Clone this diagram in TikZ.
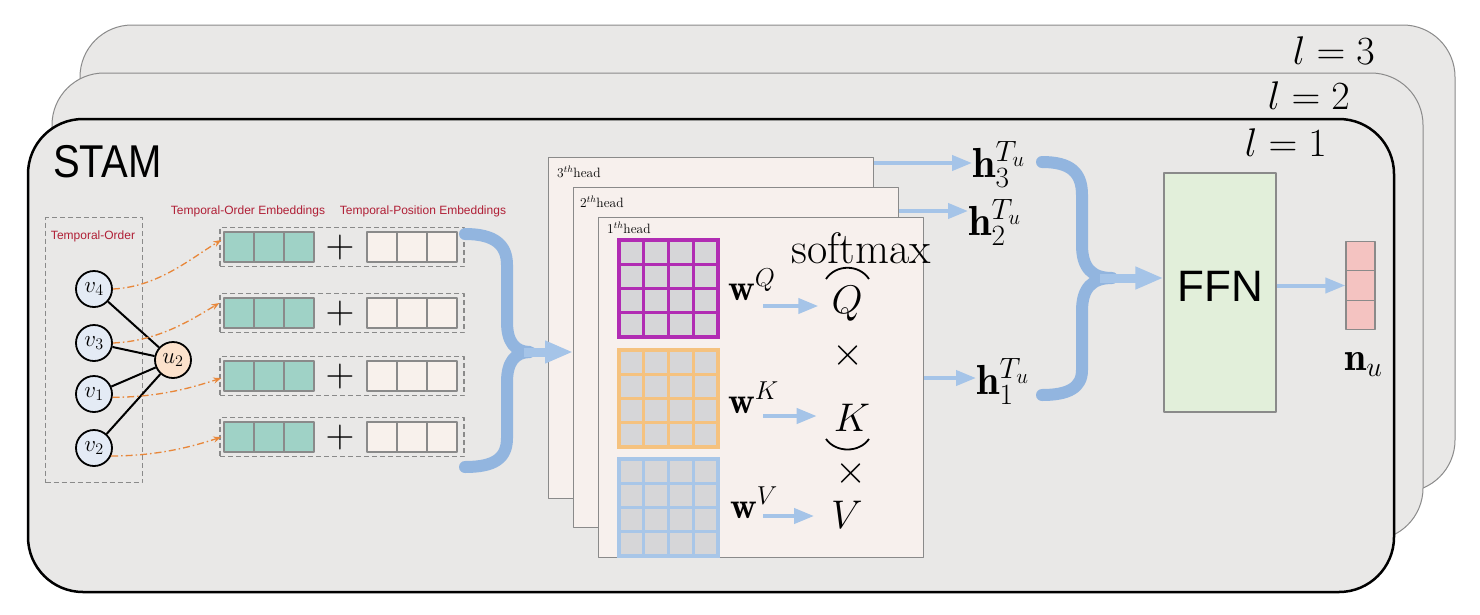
\RequirePackage{fix-cm}
\documentclass[tikz,border=0pt]{standalone}
\usepackage{fontspec}
\newfontfamily\hel{Liberation Sans}
\usetikzlibrary{arrows.meta,calc}
\definecolor{boxgray}{HTML}{E9E8E7}
\definecolor{edgegray}{HTML}{8A8A8A}
\definecolor{headfill}{HTML}{F7F0ED}
\definecolor{tealc}{HTML}{9FD2C6}
\definecolor{beigec}{HTML}{F8F1EC}
\definecolor{ffnc}{HTML}{E2EFDA}
\definecolor{pinkc}{HTML}{F4C3C1}
\definecolor{vfill}{HTML}{E4EBF5}
\definecolor{ufill}{HTML}{FCE2CC}
\definecolor{redt}{HTML}{B01F36}
\definecolor{orangec}{HTML}{E8873A}
\definecolor{gq}{HTML}{B12CB3}
\definecolor{gk}{HTML}{F5C27F}
\definecolor{gv}{HTML}{A8C6E8}
\definecolor{cellfill}{HTML}{D6D6D8}
\definecolor{bracec}{HTML}{92B5DF}
\definecolor{arrc}{HTML}{A5C4E8}
\begin{document}
\begin{tikzpicture}[x=1pt,y=-1pt,line join=round,
  layer/.style={draw=edgegray,line width=1pt,fill=boxgray,rounded corners=52pt},
  vnode/.style={circle,draw=black,line width=1.8pt,fill=vfill,minimum size=36pt,inner sep=0pt,font=\fontsize{23}{27}\selectfont},
  unode/.style={vnode,fill=ufill},
  rowbox/.style={draw=edgegray,dash pattern=on 5pt off 3pt,line width=1.3pt,minimum width=244pt,minimum height=39pt,inner sep=0pt},
  tcell/.style={draw=edgegray,line width=1.3pt,fill=tealc},
  bcell/.style={draw=edgegray,line width=1.3pt,fill=beigec},
  redlab/.style={text=redt,font=\hel\fontsize{12}{14}\selectfont,inner sep=0pt},
  headbox/.style={draw=edgegray,line width=1pt,fill=headfill,anchor=north west,minimum width=325pt,inner sep=0pt},
  headlab/.style={anchor=base west,inner sep=0pt,font=\fontsize{13.5}{16}\selectfont},
  oarr/.style={draw=orangec,line width=1.3pt,dash pattern=on 7pt off 3pt on 1.5pt off 3pt,-{Stealth[length=8pt,width=6pt]}},
  barr/.style={draw=arrc,line width=4pt,-{Triangle[length=20pt,width=15pt]}},
  bigarr/.style={draw=arrc,line width=9pt,-{Triangle[length=28pt,width=21pt]}},
  bracepath/.style={draw=bracec,line width=12pt,line cap=round},
  bigmath/.style={inner sep=0pt,font=\fontsize{40}{48}\selectfont},
  wlab/.style={anchor=base west,inner sep=0pt,font=\fontsize{37}{44}\selectfont},
  hlab/.style={anchor=base west,inner sep=0pt,font=\fontsize{42}{50}\selectfont},
  pinkcell/.style={draw=edgegray,line width=1.3pt,fill=pinkc,minimum width=29pt,minimum height=29.5pt,inner sep=0pt}
]
\useasboundingbox (0,0) rectangle (1480,614);
% stacked layers
\draw[layer] (80,25) rectangle (1455,492);
\draw[layer] (52,73) rectangle (1423,540);
\draw[layer,draw=black,line width=2.5pt,rounded corners=55pt] (28,119) rectangle (1394,592);
\node[bigmath,anchor=base east] (l3) at (1375,64) {$l=3$};
\node[bigmath,anchor=base east] (l2) at (1350,109) {$l=2$};
\node[bigmath,anchor=base east] (l1) at (1327,156) {$l=1$};
\node[anchor=base west,inner sep=0pt,font=\hel\fontsize{46}{50}\selectfont] (stam) at (53,177) {\scalebox{0.87}[1]{STAM}};
% temporal order graph
\node[draw=edgegray,dash pattern=on 5pt off 3pt,line width=1.3pt,minimum width=97pt,minimum height=265pt,anchor=north west,inner sep=0pt] (tobox) at (45,217) {};
\node[redlab] (tolab) at (93,236) {Temporal-Order};
\node[vnode] (v4) at (94,289) {$v_4$};
\node[vnode] (v3) at (94,343) {$v_3$};
\node[vnode] (v1) at (94,394) {$v_1$};
\node[vnode] (v2) at (94,448) {$v_2$};
\node[unode] (u2) at (173,360) {$u_2$};
\foreach \v in {v4,v3,v1,v2} \draw[line width=2pt] (\v) -- (u2);
% embeddings
\node[redlab] (toemb) at (248,211) {Temporal-Order Embeddings};
\node[redlab] (tpemb) at (423,211) {Temporal-Position Embeddings};
\foreach \i/\y in {1/247,2/313,3/376,4/437}{
  \node[rowbox] (r\i) at (342,\y) {};
  \foreach \k in {0,1,2}{
    \draw[tcell] (224+30*\k,\y-15) rectangle (254+30*\k,\y+15);
    \draw[bcell] (367+30*\k,\y-15) rectangle (397+30*\k,\y+15);
  }
  \node[inner sep=0pt,font=\fontsize{40}{48}\selectfont] (plus\i) at (340,\y) {$+$};
}
\draw[oarr] (v4.east) .. controls +(45,-2) and +(-30,18) .. ($(r1.west)+(2,-7)$);
\draw[oarr] (v3.east) .. controls +(45,-2) and +(-30,18) .. ($(r2.west)+(0,-10)$);
\draw[oarr] (v1.-10) .. controls +(45,0) and +(-30,10) .. ($(r3.west)+(2,2)$);
\draw[oarr] (v2.-25) .. controls +(45,0) and +(-30,10) .. ($(r4.west)+(2,0)$);
% brace 1
\draw[bracepath] (465,234) .. controls (495,234) and (507,245) .. (507,265) -- (507,322) .. controls (507,342) and (515,352) .. (530,352)
  .. controls (515,352) and (507,362) .. (507,382) -- (507,438) .. controls (507,458) and (495,467) .. (465,467);
% heads
\node[headbox,minimum height=341pt] (head3) at (548,157) {};
\node[headbox,minimum height=340pt] (head2) at (573,187) {};
\node[headbox,minimum height=340pt] (head1) at (598,217) {};
\node[headlab] (hl3) at (557,177) {$3^{th}$head};
\node[headlab] (hl2) at (580,207) {$2^{th}$head};
\node[headlab] (hl1) at (607,233) {$1^{th}$head};
\foreach \gy/\gc in {240/gq,350/gk,459/gv}{
  \fill[cellfill] (619,\gy) rectangle (718,\gy+97);
  \foreach \k in {0,...,4}{
    \draw[draw=\gc,line width=3.3pt,line cap=rect] (619+24.75*\k,\gy) -- (619+24.75*\k,\gy+97);
    \draw[draw=\gc,line width=3.3pt,line cap=rect] (619,\gy+24.25*\k) -- (718,\gy+24.25*\k);
  }
}
\node[wlab] (wq) at (728,300) {$\mathbf{w}^{Q}$};
\node[wlab] (wk) at (728,413) {$\mathbf{w}^{K}$};
\node[wlab] (wv) at (730,518) {$\mathbf{w}^{V}$};
\node[anchor=base,inner sep=0pt,font=\fontsize{44}{52}\selectfont] (smax) at (861,263) {softmax};
\node[bigmath,anchor=base] (Q) at (847,313) {$Q$};
\node[bigmath] (x1) at (848,355) {$\times$};
\node[bigmath,anchor=base] (K) at (852,431) {$K$};
\node[bigmath] (x2) at (851,473) {$\times$};
\node[bigmath,anchor=base] (V) at (847,528) {$V$};
\draw[line width=1.8pt] (826,279) .. controls (836,264) and (859,264) .. (869,279);
\draw[line width=1.8pt] (826,439) .. controls (836,453) and (859,453) .. (869,439);
\coordinate (aq) at (763,306);
\coordinate (ak) at (763,416);
\coordinate (av) at (763,516);
\draw[barr,shorten >=13pt] (aq) -- (aq -| Q.west);
\draw[barr,shorten >=17pt] (ak) -- (ak -| K.west);
\draw[barr,shorten >=17pt] (av) -- (av -| V.west);
\coordinate (b1tip) at (524,352);
\draw[bigarr] (b1tip) -- (b1tip -| head2.west);
% head outputs
\node[hlab] (h3) at (972,177) {$\mathbf{h}_3^{T_u}$};
\node[hlab] (h2) at (968,235) {$\mathbf{h}_2^{T_u}$};
\node[hlab] (h1) at (976,394) {$\mathbf{h}_1^{T_u}$};
\coordinate (s3) at ($(head3.north east)+(0,6)$);
\coordinate (s2) at ($(head2.north east)+(0,24)$);
\coordinate (s1) at ($(head1.north east)+(0,161)$);
\draw[barr] (s3) -- (s3 -| h3.west);
\draw[barr] (s2) -- (s2 -| h2.west);
\draw[barr] (s1) -- (s1 -| h1.west);
% brace 2
\draw[bracepath] (1042,162) .. controls (1070,162) and (1082,172) .. (1082,195) -- (1082,245) .. controls (1082,268) and (1092,278) .. (1112,278)
  .. controls (1092,278) and (1082,288) .. (1082,311) -- (1082,370) .. controls (1082,388) and (1068,395) .. (1042,395);
% FFN
\node[draw=edgegray,line width=1.2pt,fill=ffnc,minimum width=112pt,minimum height=239pt,inner sep=0pt,font=\hel\fontsize{44}{50}\selectfont] (ffn) at (1220,292.5) {\raisebox{12pt}{FFN}};
\coordinate (b2tip) at (1100,278);
\draw[bigarr] (b2tip) -- (b2tip -| ffn.west);
\node[pinkcell] (n1) at (1360.5,256) {};
\node[pinkcell] (n2) at (1360.5,285.5) {};
\node[pinkcell] (n3) at (1360.5,315) {};
\draw[barr] (ffn.east |- n2) -- (n2.west);
\node[anchor=base west,inner sep=0pt,font=\fontsize{40}{46}\selectfont] (nu) at (1344,370) {$\mathbf{n}_u$};
\end{tikzpicture}
\end{document}
